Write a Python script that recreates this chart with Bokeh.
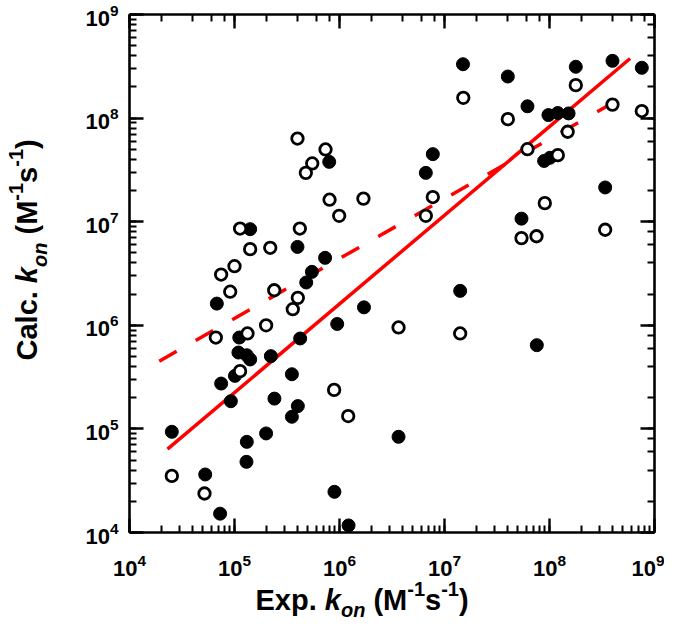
import math
from bokeh.plotting import figure
from bokeh.layouts import column, row
from bokeh.models import Range1d, LogAxis, LogTicker, Label, CustomJSTickFormatter
from bokeh.embed import file_html
from bokeh.resources import INLINE

# ---- data ----
filled_exp = [7.98e5, 1.41e5, 3.98e5, 7.29e5, 5.46e5, 4.82e5, 1.50e7, 4.01e7, 6.17e7, 9.77e7,
              1.20e8, 1.52e8, 1.78e8, 3.98e8, 7.57e8, 7.74e6, 6.64e6, 8.89e7, 1.01e8, 3.39e8,
              5.41e7, 6.79e4, 1.11e5, 1.09e5, 1.31e5, 1.41e5, 1.01e5, 7.46e4, 2.22e5, 4.22e5,
              3.52e5, 9.23e4, 2.40e5, 4.01e5, 3.52e5, 9.51e5, 1.71e6, 2.00e5, 1.31e5, 1.30e5,
              2.53e4, 5.26e4, 7.29e4, 8.95e5, 1.22e6, 1.41e7, 7.57e7, 3.65e6]
filled_calc = [3.78e7, 8.47e6, 5.71e6, 4.48e6, 3.28e6, 2.59e6, 3.31e8, 2.52e8, 1.30e8, 1.07e8,
               1.12e8, 1.11e8, 3.13e8, 3.57e8, 3.06e8, 4.49e7, 2.96e7, 3.86e7, 4.14e7, 2.14e7,
               1.07e7, 1.62e6, 7.62e5, 5.46e5, 5.14e5, 4.68e5, 3.25e5, 2.74e5, 5.04e5, 7.46e5,
               3.37e5, 1.85e5, 1.96e5, 1.66e5, 1.31e5, 1.03e6, 1.49e6, 9.04e4, 7.50e4, 4.81e4,
               9.38e4, 3.63e4, 1.52e4, 2.47e4, 1.17e4, 2.15e6, 6.43e5, 8.39e4]
open_exp = [3.98e5, 7.36e5, 5.50e5, 4.78e5, 8.04e5, 9.93e5, 1.69e6, 1.13e5, 1.41e5, 2.19e5,
            4.19e5, 1.00e5, 7.46e4, 1.51e7, 4.01e7, 1.78e8, 3.98e8, 7.57e8, 1.49e8, 6.17e7,
            1.20e8, 7.74e6, 6.64e6, 9.02e7, 5.41e7, 7.52e7, 3.39e8, 9.10e4, 2.39e5, 4.01e5,
            3.59e5, 2.00e5, 6.64e4, 1.33e5, 1.13e5, 8.89e5, 1.21e6, 2.53e4, 5.18e4, 3.65e6,
            1.41e7]
open_calc = [6.35e7, 4.98e7, 3.65e7, 2.96e7, 1.63e7, 1.14e7, 1.67e7, 8.59e6, 5.43e6, 5.60e6,
             8.59e6, 3.72e6, 3.09e6, 1.57e8, 9.77e7, 2.08e8, 1.35e8, 1.17e8, 7.38e7, 5.01e7,
             4.39e7, 1.73e7, 1.14e7, 1.51e7, 6.95e6, 7.24e6, 8.36e6, 2.11e6, 2.18e6, 1.84e6,
             1.43e6, 1.00e6, 7.62e5, 8.34e5, 3.61e5, 2.38e5, 1.33e5, 3.52e4, 2.38e4, 9.53e5,
             8.34e5]
solid_fit_x = [2.30e4, 5.86e8]
solid_fit_y = [6.37e4, 3.76e8]
dashed_fit_x = [1.92e4, 3.52e8]
dashed_fit_y = [4.50e5, 1.30e8]
axis_min, axis_max = 1e4, 1e9

FONT = "Liberation Sans"
YLAB_W = 76
B_LEFT, B_RIGHT, B_TOP, B_BOTTOM = 53, 10, 14, 70
FRAME_W, FRAME_H = 525, 518
MAIN_W = B_LEFT + FRAME_W + B_RIGHT
MAIN_H = B_TOP + FRAME_H + B_BOTTOM
XLAB_H, XLAB_OVERLAP = 48, 30

p = figure(width=MAIN_W, height=MAIN_H, frame_width=FRAME_W, frame_height=FRAME_H,
           x_axis_type="log", y_axis_type="log",
           x_range=Range1d(axis_min, axis_max), y_range=Range1d(axis_min, axis_max),
           output_backend="svg", toolbar_location=None,
           min_border_left=B_LEFT, min_border_right=B_RIGHT, min_border_top=B_TOP,
           min_border_bottom=B_BOTTOM)
p.grid.visible = False
p.outline_line_color = None
p.background_fill_color = "white"


def style_axis(ax, labels=True):
    ax.axis_line_width = 2.6
    ax.axis_line_color = "black"
    ax.major_tick_in = 14
    ax.major_tick_out = 0
    ax.minor_tick_in = 7
    ax.minor_tick_out = 0
    ax.major_tick_line_width = 2.4
    ax.minor_tick_line_width = 2.0
    ax.major_tick_line_color = "black"
    ax.minor_tick_line_color = "black"
    ax.major_label_text_font = FONT
    ax.major_label_text_font_style = "bold"
    ax.major_label_text_font_size = "22px"
    ax.major_label_text_color = "black"
    if not labels:
        ax.formatter = CustomJSTickFormatter(code="return ''")
        ax.major_label_standoff = 0


style_axis(p.xaxis[0])
style_axis(p.yaxis[0])
p.xaxis[0].major_label_standoff = 21
p.yaxis[0].major_label_standoff = 11

top = LogAxis(ticker=LogTicker())
right = LogAxis(ticker=LogTicker())
style_axis(top, labels=False)
style_axis(right, labels=False)
p.add_layout(top, "above")
p.add_layout(right, "right")

# fit lines
p.line(dashed_fit_x, dashed_fit_y, line_color="#ff0000", line_width=3.5, line_dash="20 22")
p.line(solid_fit_x, solid_fit_y, line_color="#ff0000", line_width=3.5)

# points
p.scatter(filled_exp, filled_calc, size=13, fill_color="black", line_color="black", line_width=1)
p.scatter(open_exp, open_calc, size=11.5, fill_color="white", line_color="black", line_width=2.8)


# ---- axis titles composed from text pieces, in their own small canvases ----
def blank(w, h, transparent=False):
    f = figure(width=w, height=h, output_backend="svg", toolbar_location=None,
               x_axis_location=None, y_axis_location=None,
               min_border=0, min_border_left=0, min_border_right=0, min_border_top=0, min_border_bottom=0)
    f.outline_line_color = None
    f.grid.visible = False
    f.background_fill_color = None if transparent else "white"
    f.border_fill_color = None if transparent else "white"
    return f


ylab = blank(YLAB_W, MAIN_H)
xlab = blank(YLAB_W + MAIN_W, XLAB_H, transparent=True)
xlab.margin = (-XLAB_OVERLAP, 0, 0, 0)

W = {"E": .667, "x": .556, "p": .611, ".": .278, " ": .278, "k": .556, "o": .611, "n": .611,
     "(": .333, "M": .833, "-": .333, "1": .556, "s": .556, ")": .333, "C": .722, "a": .556,
     "l": .278, "c": .556}
F, f = 29, 20


def width(t, size):
    return sum(W[c] for c in t) * size


def compose(fig, prefix, start, base, vertical, sub_shift):
    pieces = [(prefix + " ", "main", "bold"), ("k", "main", "bold italic"), ("on", "sub", "bold italic"),
              (" ", "main", "bold"), ("(M", "main", "bold"), ("-1", "sup", "bold"), ("s", "main", "bold"),
              ("-1", "sup", "bold"), (")", "main", "bold")]
    pos = start
    for txt, kind, style in pieces:
        size = F if kind == "main" else f
        shift = {"main": 0, "sub": -sub_shift, "sup": 11}[kind]
        if txt.strip():
            if vertical:
                lab = Label(x=base - shift, y=pos, x_units="screen", y_units="screen", text=txt.strip(),
                            angle=math.pi / 2, text_align="left", text_baseline="alphabetic")
            else:
                lab = Label(x=pos, y=base + shift, x_units="screen", y_units="screen", text=txt.strip(),
                            text_align="left", text_baseline="alphabetic")
            lab.text_font = FONT
            lab.text_font_style = style
            lab.text_font_size = f"{size}px"
            lab.text_color = "black"
            fig.add_layout(lab)
        pos += width(txt, size)


compose(xlab, "Exp.", 255, 21, False, 10)
compose(ylab, "Calc.", 172, 26, True, 13)

layout = column(row(ylab, p, spacing=0), xlab, spacing=0)
open("out.html", "w").write(file_html(layout, INLINE))
